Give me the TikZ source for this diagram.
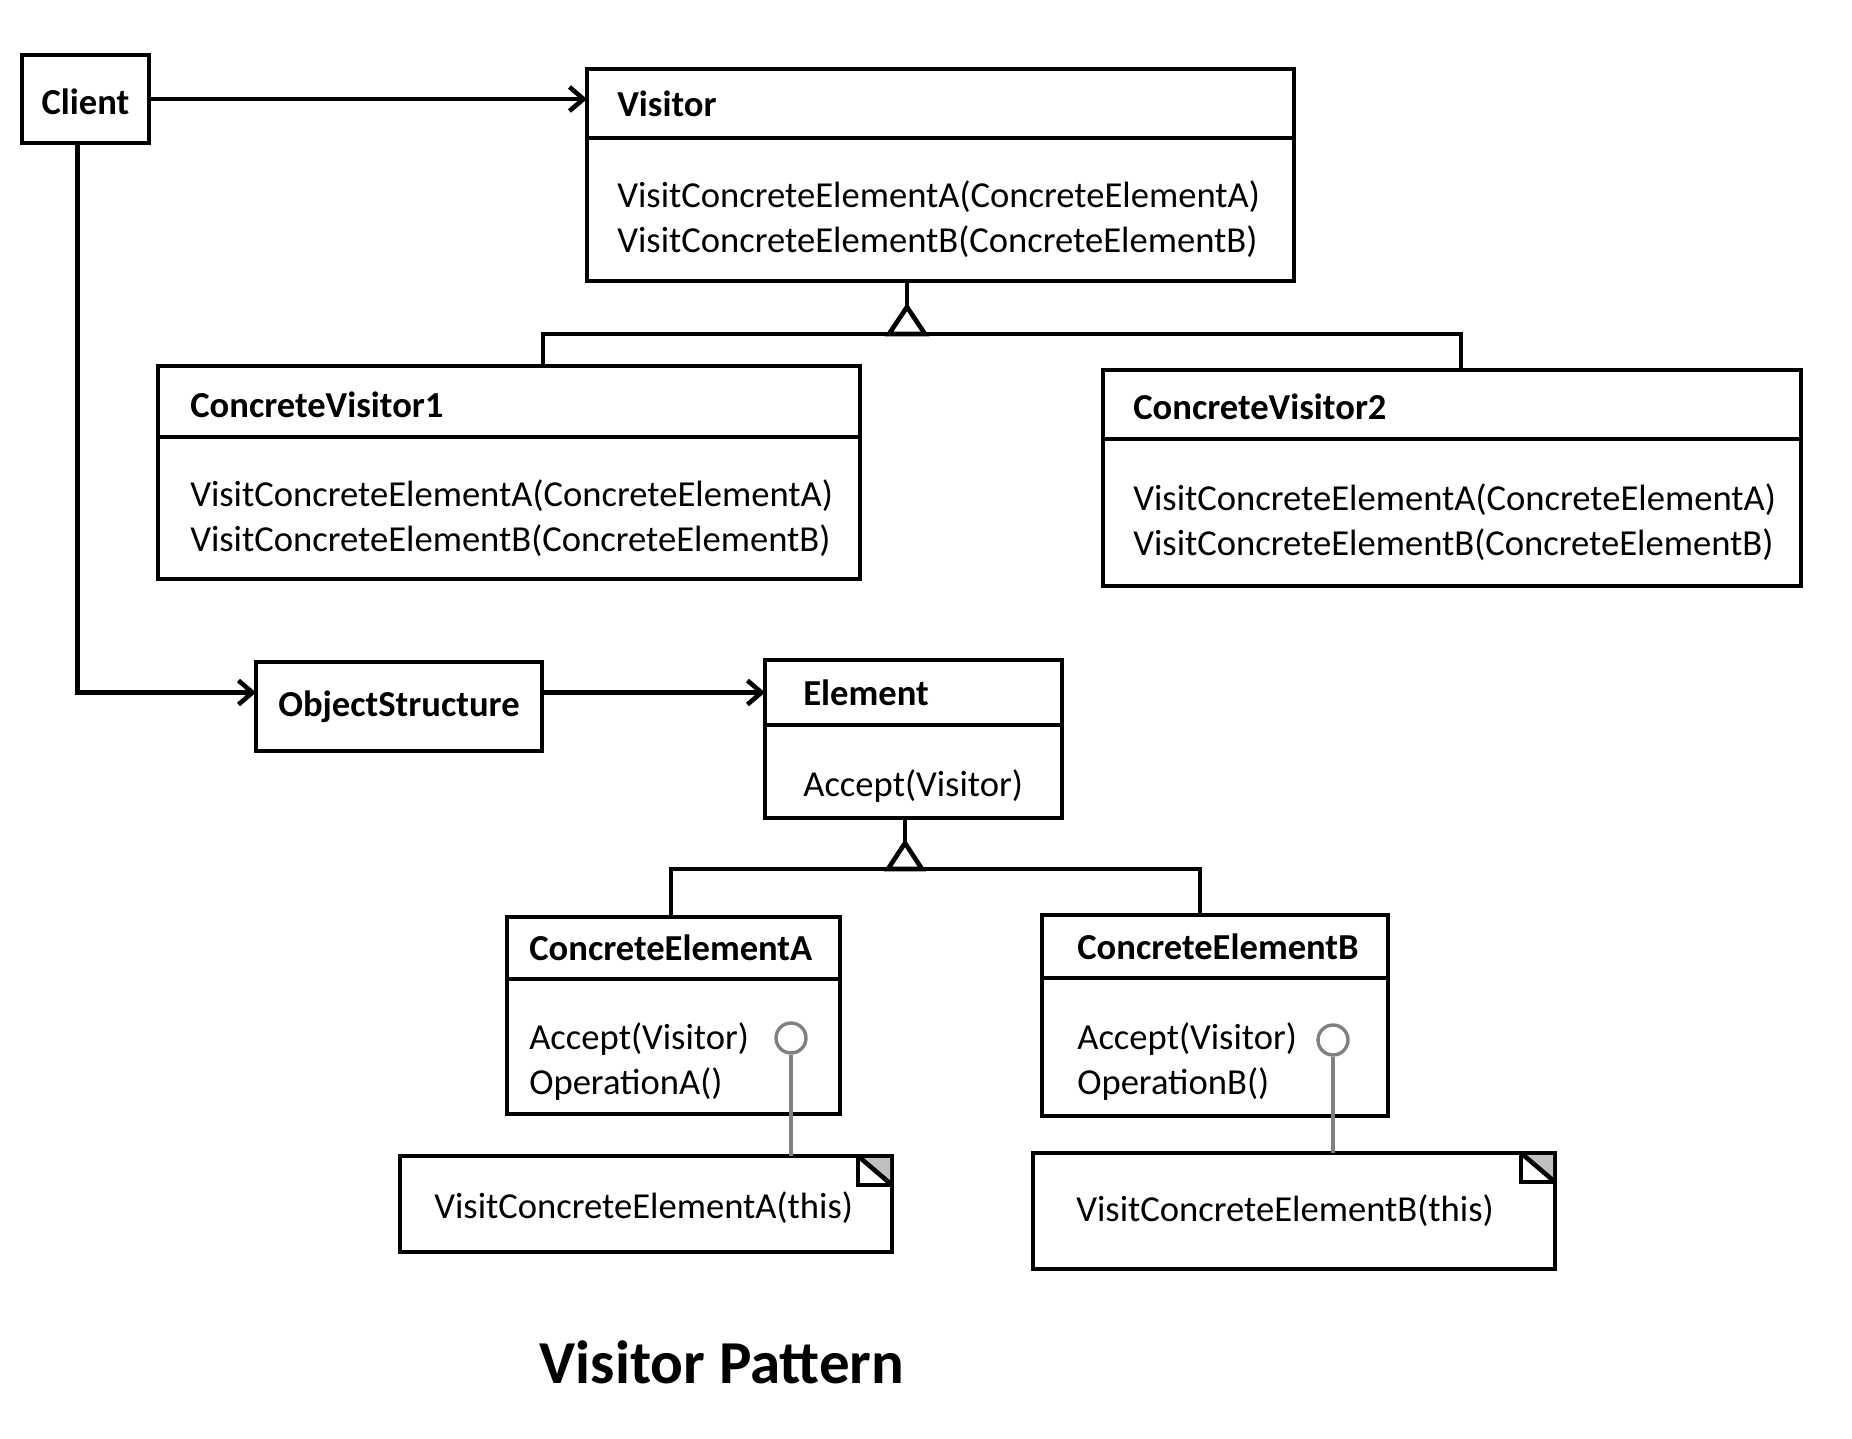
\documentclass[tikz,border=0pt]{standalone}
\usepackage{fontspec}
\setmainfont{Carlito}
\usetikzlibrary{positioning,arrows.meta}

\definecolor{pingray}{HTML}{808080}
\definecolor{foldgray}{HTML}{C0C0C0}

\tikzset{
	box/.style={rectangle,draw,anchor=north west,outer sep=0pt,inner sep=0pt},
	clsname/.style={inner sep=0pt,font=\bfseries\fontsize{36.6}{45}\selectfont},
	ops/.style={inner sep=0pt,align=left,yshift=-10pt,font=\fontsize{36.6}{45}\selectfont},
	arr/.style={-{Straight Barb[length=14pt,width=24pt]}},
	pin/.style={circle,draw=pingray,line width=3.4pt,minimum size=30pt,inner sep=0pt}
}

\begin{document}
\begin{tikzpicture}[
	x=1pt,y=-1pt,
	line width=4.6pt
]
	\useasboundingbox (0,0) rectangle (1852,1439);

	% client and object structure
	\node[box,minimum width=127pt,minimum height=88pt,text height=32pt,font=\bfseries\fontsize{36.6}{45}\selectfont] (client) at (22,55) {Client};
	\node[box,minimum width=286pt,minimum height=89pt,font=\bfseries\fontsize{36.6}{45}\selectfont] (os) at (256,662) {ObjectStructure};

	% visitor classes
	\node[box,minimum width=707pt,minimum height=69pt] (vis) at (587,69) {};
	\node[box,minimum width=707pt,minimum height=143pt] (vis-ops) at (vis.south west) {};
	\node[clsname,right=28pt of vis.west] (vis-name) {Visitor};
	\node[ops,right=28pt of vis-ops.west] (vis-m) {VisitConcreteElementA(ConcreteElementA)\\VisitConcreteElementB(ConcreteElementB)};

	\node[box,minimum width=702pt,minimum height=71pt] (cv1) at (158,366) {};
	\node[box,minimum width=702pt,minimum height=142pt] (cv1-ops) at (cv1.south west) {};
	\node[clsname,yshift=-3pt,right=30pt of cv1.west] (cv1-name) {ConcreteVisitor1};
	\node[ops,right=30pt of cv1-ops.west] (cv1-m) {VisitConcreteElementA(ConcreteElementA)\\VisitConcreteElementB(ConcreteElementB)};

	\node[box,minimum width=698pt,minimum height=69pt] (cv2) at (1103,370) {};
	\node[box,minimum width=698pt,minimum height=147pt] (cv2-ops) at (cv2.south west) {};
	\node[clsname,yshift=-2pt,right=28pt of cv2.west] (cv2-name) {ConcreteVisitor2};
	\node[ops,right=28pt of cv2-ops.west] (cv2-m) {VisitConcreteElementA(ConcreteElementA)\\VisitConcreteElementB(ConcreteElementB)};

	% element classes
	\node[box,minimum width=297pt,minimum height=65pt] (el) at (765,660) {};
	\node[box,minimum width=297pt,minimum height=93pt] (el-ops) at (el.south west) {};
	\node[clsname,right=36pt of el.west] (el-name) {Element};
	\node[ops,yshift=-5pt,right=36pt of el-ops.west] (el-m) {Accept(Visitor)};

	\node[box,minimum width=333pt,minimum height=62pt] (cea) at (507,917) {};
	\node[box,minimum width=333pt,minimum height=135pt] (cea-ops) at (cea.south west) {};
	\node[clsname,right=20pt of cea.west] (cea-name) {ConcreteElementA};
	\node[ops,yshift=-5pt,right=20pt of cea-ops.west] (cea-m) {Accept(Visitor)\\OperationA()};

	\node[box,minimum width=346pt,minimum height=63pt] (ceb) at (1042,915) {};
	\node[box,minimum width=346pt,minimum height=138pt] (ceb-ops) at (ceb.south west) {};
	\node[clsname,right=33pt of ceb.west] (ceb-name) {ConcreteElementB};
	\node[ops,yshift=-5pt,right=33pt of ceb-ops.west] (ceb-m) {Accept(Visitor)\\OperationB()};

	% notes
	\node[box,minimum width=492pt,minimum height=96pt] (note-a) at (400,1156) {};
	\node[ops,yshift=6pt,right=32pt of note-a.west] (note-a-txt) {VisitConcreteElementA(this)};
	\node[box,minimum width=522pt,minimum height=116pt] (note-b) at (1033,1153) {};
	\node[ops,yshift=10pt,right=41pt of note-b.west] (note-b-txt) {VisitConcreteElementB(this)};

	\foreach \n in {note-a,note-b}{
		\fill[foldgray] ([xshift=-34pt,yshift=-2pt]\n.north east) -- ([xshift=-2pt,yshift=-2pt]\n.north east) -- ([xshift=-2pt,yshift=-29pt]\n.north east) -- cycle;
		\draw ([xshift=-34pt]\n.north east) |- ([yshift=-29pt]\n.north east);
		\draw ([xshift=-34pt]\n.north east) -- ([yshift=-29pt]\n.north east);
	}

	\node[pin] (pin-a) at (791,1038) {};
	\node[pin] (pin-b) at (1333,1040) {};
	\draw[pingray,line width=3.4pt] (pin-a.south) -- (pin-a.south |- note-a.north);
	\draw[pingray,line width=3.4pt] (pin-b.south) -- (pin-b.south |- note-b.north);

	% associations
	\draw[arr] (client.east) -- (client.east -| vis.west);
	\draw[arr] ([xshift=-8pt]client.south) |- (os.west |- el.west);
	\draw[arr] (os.east |- el.west) -- (el.west);

	% generalizations
	\coordinate (vis-tip) at (907,307);
	\coordinate (vis-bar-l) at (543,334);
	\coordinate (vis-bar-r) at (1461,334);
	\draw (vis-tip |- vis-ops.south) -- (vis-tip);
	\draw (vis-bar-l |- cv1.north) -- (vis-bar-l) -- (vis-bar-r) -- (vis-bar-r |- cv2.north);
	\draw[fill=white] (vis-tip) -- ++(-18,27) -- ++(36,0) -- cycle;

	\coordinate (el-tip) at (905,843);
	\coordinate (el-bar-l) at (671,869);
	\coordinate (el-bar-r) at (1200,869);
	\draw (el-tip |- el-ops.south) -- (el-tip);
	\draw (el-bar-l |- cea.north) -- (el-bar-l) -- (el-bar-r) -- (el-bar-r |- ceb.north);
	\draw[fill=white] (el-tip) -- ++(-17,26) -- ++(34,0) -- cycle;

	\node[anchor=base,inner sep=0pt,font=\bfseries\fontsize{61}{72}\selectfont] (title) at (722,1383) {Visitor Pattern};
\end{tikzpicture}
\end{document}
